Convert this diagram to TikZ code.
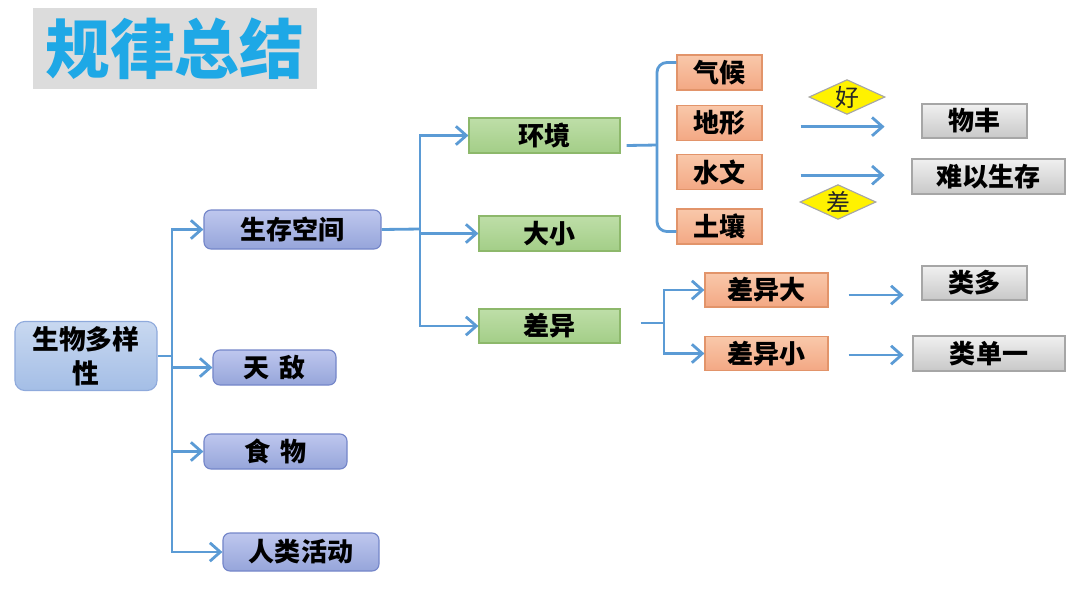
\documentclass[tikz,border=0pt]{standalone}
\usepackage{fontspec}
\setmainfont{Noto Sans CJK SC}
\usetikzlibrary{shapes.geometric, arrows.meta, positioning, calc}
\definecolor{linkBlue}{RGB}{91, 155, 213}
\definecolor{titleBlue}{RGB}{30, 168, 230}
\definecolor{titleGray}{RGB}{220, 220, 220}
\definecolor{rootTop}{RGB}{200, 216, 240}
\definecolor{rootBottom}{RGB}{164, 190, 230}
\definecolor{rootEdge}{RGB}{143, 170, 220}
\definecolor{blueTop}{RGB}{190, 199, 238}
\definecolor{blueBottom}{RGB}{150, 165, 218}
\definecolor{blueEdge}{RGB}{116, 134, 201}
\definecolor{greenTop}{RGB}{190, 222, 168}
\definecolor{greenBottom}{RGB}{163, 206, 135}
\definecolor{greenEdge}{RGB}{141, 184, 107}
\definecolor{orangeTop}{RGB}{249, 200, 170}
\definecolor{orangeBottom}{RGB}{243, 168, 132}
\definecolor{orangeEdge}{RGB}{226, 148, 106}
\definecolor{grayTop}{RGB}{240, 240, 240}
\definecolor{grayBottom}{RGB}{200, 200, 200}
\definecolor{grayEdge}{RGB}{166, 166, 166}
\newcommand{\boxfont}{\fontsize{18.5}{22}\selectfont\bfseries}

\begin{document}
\begin{tikzpicture}[
    x=0.025cm, y=-0.025cm,
    box/.style={rectangle, draw, line width=0.8pt, inner sep=0pt, font=\boxfont, align=center},
    bluebox/.style={box, rounded corners=5pt, draw=blueEdge, top color=blueTop, bottom color=blueBottom},
    greenbox/.style={box, draw=greenEdge, top color=greenTop, bottom color=greenBottom},
    orangebox/.style={box, draw=orangeEdge, top color=orangeTop, bottom color=orangeBottom},
    graybox/.style={box, draw=grayEdge, top color=grayTop, bottom color=grayBottom},
    tag/.style={diamond, draw=grayEdge, line width=0.8pt, fill=yellow, aspect=2.2, inner sep=0pt, minimum width=1.9cm, minimum height=0.87cm, font=\fontsize{17}{19}\selectfont, text=black!85},
    link/.style={linkBlue, line width=2pt},
    arr/.style={link, -{Straight Barb[length=2.6mm, width=4.6mm, line width=2pt]}}
]
    \useasboundingbox (0,0) rectangle (1080,608);

    % Title
    \node[fill=titleGray, minimum width=7.1cm, minimum height=2.025cm, inner sep=0pt,
          font=\fontsize{46}{50}\selectfont\bfseries, text=titleBlue] (title) at (175,48.5) {规律总结};

    % Level 1
    \node[box, rounded corners=7pt, draw=rootEdge, top color=rootTop, bottom color=rootBottom,
          minimum width=3.55cm, minimum height=1.725cm, font=\fontsize{19}{24}\selectfont\bfseries] (root) at (86,356) {生物多样\\性};

    % Level 2
    \node[bluebox, minimum width=4.425cm, minimum height=0.975cm] (space) at (292.5,229.5) {生存空间};
    \node[bluebox, minimum width=3.075cm, minimum height=0.875cm] (enemy) at (274.5,367.5) {天\hspace{0.4em}敌};
    \node[bluebox, minimum width=3.575cm, minimum height=0.875cm] (food) at (275.5,451.5) {食\hspace{0.4em}物};
    \node[bluebox, minimum width=3.9cm, minimum height=0.95cm] (human) at (301,552) {人类活动};

    % Level 3
    \node[greenbox, minimum width=3.775cm, minimum height=0.875cm] (env) at (544.5,135.5) {环境};
    \node[greenbox, minimum width=3.525cm, minimum height=0.875cm] (size) at (549.5,233.5) {大小};
    \node[greenbox, minimum width=3.525cm, minimum height=0.85cm] (diff) at (549.5,326) {差异};

    % Environment factors
    \node[orangebox, minimum width=2.125cm, minimum height=0.875cm] (climate) at (719.5,72.5) {气候};
    \node[orangebox, minimum width=2.125cm, minimum height=0.875cm, below=0.35cm of climate] (terrain) {地形};
    \node[orangebox, minimum width=2.125cm, minimum height=0.875cm, below=0.335cm of terrain] (water) {水文};
    \node[orangebox, minimum width=2.125cm, minimum height=0.875cm] (soil) at (719.5,226.5) {土壤};

    % Difference branches
    \node[orangebox, minimum width=3.075cm, minimum height=0.85cm] (diffbig) at (766.5,290) {差异大};
    \node[orangebox, minimum width=3.075cm, minimum height=0.85cm] (diffsmall) at (766.5,353.5) {差异小};

    % Results
    \node[graybox, minimum width=2.625cm, minimum height=0.85cm] (rich) at (974.5,121) {物丰};
    \node[graybox, minimum width=3.825cm, minimum height=0.875cm] (hard) at (988.5,176.5) {难以生存};
    \node[graybox, minimum width=2.625cm, minimum height=0.85cm] (many) at (974.5,283) {类多};
    \node[graybox, minimum width=3.8cm, minimum height=0.875cm] (single) at (989,353.5) {类单一};

    \node[tag] (good) at (847,97) {好};
    \node[tag] (bad) at (838,202) {差};

    % Connections
    \coordinate (fork1) at (172,356);
    \coordinate (fork2) at (420,229);
    \coordinate (fork3) at (664,323);
    \coordinate (brace) at (657,145);

    \draw[link] (root.east) -- (fork1);
    \foreach \t in {space, enemy, food, human}
        \draw[arr] (fork1) |- (\t.west);

    \draw[link] (space.east) -- (fork2);
    \foreach \t in {env, size, diff}
        \draw[arr] (fork2) |- (\t.west);

    \draw[link] ($(env.east)+(6,10)$) -- (brace);
    \draw[link, rounded corners=7pt] ($(climate.west)+(0,-10)$) -| (brace) |- ($(soil.west)+(0,5)$);

    \draw[link] ($(diff.east)+(20,-3)$) -- (fork3);
    \draw[arr] (fork3) |- (diffbig.west);
    \draw[arr] (fork3) |- (diffsmall.west);

    \draw[arr] ($(terrain.east)+(38,4)$) -- ++(84,0);
    \draw[arr] ($(water.east)+(38,3)$) -- ++(84,0);
    \draw[arr] ($(diffbig.east)+(20,5)$) -- ++(55,0);
    \draw[arr] ($(diffsmall.east)+(20,1.5)$) -- ++(55,0);
\end{tikzpicture}
\end{document}
